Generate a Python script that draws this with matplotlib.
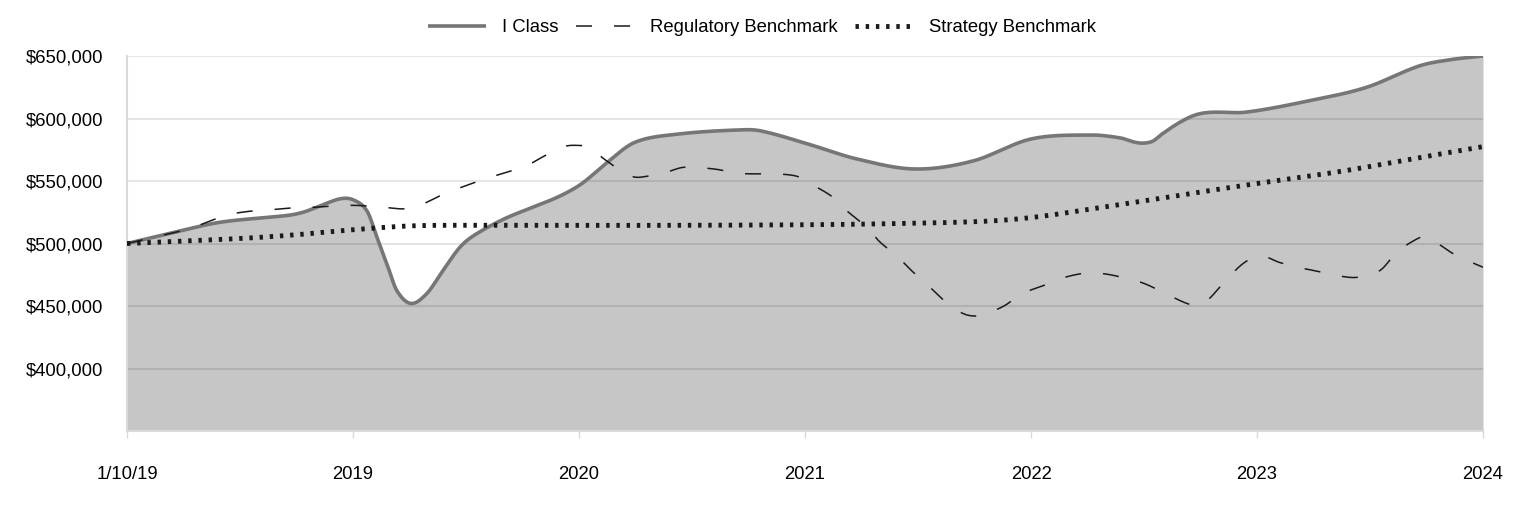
import numpy as np
import matplotlib
matplotlib.use("Agg")
import matplotlib.pyplot as plt
from matplotlib.ticker import FuncFormatter

plt.rcParams["font.family"] = ["Liberation Sans", "DejaVu Sans"]

# ── Data (x in years since inception, values in $000) ─────────────────────────
tick_labels = ["1/10/19", "2019", "2020", "2021", "2022", "2023", "2024"]

iclass_x = [0.00, 0.212, 0.412, 0.708, 0.779, 0.854, 0.942, 1.000, 1.062, 1.106,
            1.155, 1.195, 1.257, 1.327, 1.389, 1.473, 1.540, 1.673, 1.796, 1.916,
            2.013, 2.119, 2.248, 2.442, 2.699, 2.801, 3.013, 3.230, 3.487, 3.743,
            4.000, 4.261, 4.394, 4.460, 4.500, 4.540, 4.580, 4.659, 4.730, 4.800,
            4.947, 5.226, 5.482, 5.717, 5.854, 6.000]
iclass_y = [500, 509, 517, 522.4, 525, 530, 535.7, 535, 526, 505,
            481, 462, 452, 460, 476, 497, 507, 520, 529, 538,
            548, 564, 581, 587.6, 590.8, 590.2, 579.6, 567.6, 559.6, 566,
            583.6, 586.8, 584.5, 581, 580.3, 582, 587.6, 597, 603, 605,
            605, 614, 624.8, 642, 647, 650]

reg_x = [0.000, 0.168, 0.279, 0.367, 0.447, 0.553, 0.637, 0.748, 0.832, 0.938,
         1.027, 1.133, 1.217, 1.274, 1.327, 1.403, 1.496, 1.584, 1.681, 1.765,
         1.863, 1.938, 1.991, 2.044, 2.111, 2.195, 2.226, 2.270, 2.385, 2.465,
         2.593, 2.721, 2.854, 2.960, 3.013, 3.124, 3.186, 3.274, 3.327, 3.412,
         3.473, 3.553, 3.615, 3.699, 3.765, 3.819, 3.885, 3.960, 4.058, 4.128,
         4.239, 4.323, 4.429, 4.504, 4.602, 4.686, 4.730, 4.783, 4.845, 4.925,
         4.987, 5.035, 5.097, 5.181, 5.288, 5.363, 5.447, 5.544, 5.619, 5.695,
         5.743, 5.792, 5.876, 6.000]
reg_y = [500, 507, 512, 518, 523, 526, 527, 528.7, 529, 530.4,
         530.4, 529, 527.7, 529, 533, 539.7, 546, 551.7, 557, 562,
         571.6, 577.7, 578.5, 577, 567.6, 557, 554, 553, 557, 561,
         559.7, 556, 555.7, 554, 549, 537, 526, 513, 502, 489,
         478, 465, 454.5, 444, 442, 445, 450.5, 459.8, 466.5, 471.8,
         476.3, 475.8, 471.8, 467.8, 459.3, 452.3, 450.5, 455, 467, 482,
         489, 489.5, 485, 481, 477, 474, 473, 478.4, 493, 502.4,
         505.5, 501, 491, 481]

strat_x = [0.0, 0.248, 0.5, 0.748, 1.0, 1.274, 1.65, 2.314, 3.0, 3.42,
           3.819, 4.04, 4.296, 4.5, 4.779, 5.0, 5.381, 5.748, 6.0]
strat_y = [500, 502, 504, 507, 511, 514.2, 514.5, 514.5, 515, 516,
           518, 521.6, 528.5, 534, 542, 548, 558, 569.6, 577.5]


def smooth(x, y, xs):
    # cubic Hermite with finite-difference (Catmull-Rom style) tangents
    x = np.asarray(x, float); y = np.asarray(y, float)
    h = np.diff(x)
    m = np.empty_like(y)
    m[1:-1] = (y[2:] - y[:-2]) / (x[2:] - x[:-2])
    m[0] = (y[1] - y[0]) / h[0]
    m[-1] = (y[-1] - y[-2]) / h[-1]
    i = np.clip(np.searchsorted(x, xs) - 1, 0, len(h) - 1)
    t = (xs - x[i]) / h[i]
    h00 = 2 * t**3 - 3 * t**2 + 1
    h10 = t**3 - 2 * t**2 + t
    h01 = -2 * t**3 + 3 * t**2
    h11 = t**3 - t**2
    return h00 * y[i] + h10 * h[i] * m[i] + h01 * y[i + 1] + h11 * h[i] * m[i + 1]


xs = np.linspace(0, 6, 1500)
ic = smooth(iclass_x, iclass_y, xs) * 1000
rb = smooth(reg_x, reg_y, xs) * 1000
sb = smooth(strat_x, strat_y, xs) * 1000

# ── Plot ─────────────────────────────────────────────────────────────────────
fig = plt.figure(figsize=(15.24, 5.16), dpi=100)
ax = fig.add_axes([127 / 1524, 1 - 431 / 516, (1483 - 127) / 1524, (431 - 56) / 516])

ymin, ymax = 350000, 650000
ax.fill_between(xs, ymin, ic, color="#c6c6c6", lw=0, zorder=1)
for yv in range(400000, 650001, 50000):
    ax.axhline(yv, color="black", alpha=0.1, lw=1.5, zorder=2)

ax.plot(xs, ic, color="#767676", lw=2.6, zorder=3, label="I Class",
        solid_capstyle="butt")
ax.plot(xs, rb, color="#1a1a1a", lw=1.1, zorder=4, label="Regulatory Benchmark",
        dashes=(10.5, 14.4))
ax.plot(xs, sb, color="#1a1a1a", lw=3.5, zorder=5, label="Strategy Benchmark",
        dashes=(0.7, 1.4), dash_capstyle="butt")

ax.set_xlim(0, 6)
ax.set_ylim(ymin, ymax)
ax.set_xticks(range(7))
ax.set_xticklabels(tick_labels)
ax.set_yticks(range(400000, 650001, 50000))
ax.yaxis.set_major_formatter(FuncFormatter(lambda v, p: f"${v:,.0f}"))
ax.tick_params(axis="y", length=0, pad=17, labelsize=13.3)
ax.tick_params(axis="x", length=5, width=1, color="#d9d9d9", pad=20, labelsize=13.3)

for s in ["top", "right"]:
    ax.spines[s].set_visible(False)
for s in ["left", "bottom"]:
    ax.spines[s].set_color("#d9d9d9")
    ax.spines[s].set_linewidth(1.5)

fig.legend(loc="center", bbox_to_anchor=(0.5, 1 - 28 / 516), ncol=3, frameon=False,
           fontsize=13.3, handlelength=3.15, handletextpad=0.9, columnspacing=0.9)

fig.savefig("out.png", dpi=100)
